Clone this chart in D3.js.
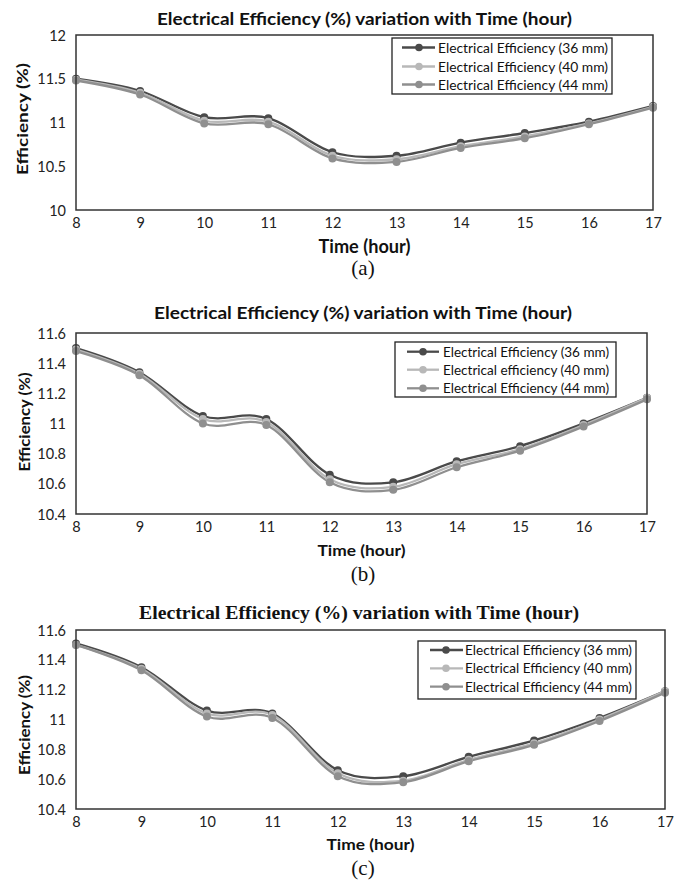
<!DOCTYPE html>
<html><head><meta charset="utf-8">
<script src="https://cdn.jsdelivr.net/npm/d3@7"></script>
<style>body{margin:0;background:#fff} svg{display:block}</style>
</head><body><svg id="c" width="683" height="884"></svg>
<script>
// ---------- data ----------
const hours = [8, 9, 10, 11, 12, 13, 14, 15, 16, 17];
const yTicksA = [10, 10.5, 11, 11.5, 12];
const yTicksBC = [10.4, 10.6, 10.8, 11, 11.2, 11.4, 11.6];
const chartTitle = "Electrical Efficiency (%) variation with Time (hour)";
const xAxisTitle = "Time (hour)";
const yAxisTitle = "Efficiency (%)";
const legendA = ["Electrical Efficiency (36 mm)", "Electrical Efficiency (40 mm)", "Electrical Efficiency (44 mm)"];
const legendB = ["Electrical Efficiency (36 mm)", "Electrical efficiency (40 mm)", "Electrical Efficiency (44 mm)"];
const legendC = ["Electrical Efficiency (36 mm)", "Electrical Efficiency (40 mm)", "Electrical Efficiency (44 mm)"];
const captions = ["(a)", "(b)", "(c)"];

const effA36 = [11.50, 11.36, 11.06, 11.05, 10.66, 10.62, 10.77, 10.88, 11.01, 11.19];
const effA40 = [11.49, 11.34, 11.02, 11.01, 10.62, 10.58, 10.73, 10.84, 10.99, 11.18];
const effA44 = [11.48, 11.32, 10.99, 10.98, 10.59, 10.55, 10.71, 10.82, 10.98, 11.17];

const effB36 = [11.50, 11.34, 11.05, 11.03, 10.66, 10.61, 10.75, 10.85, 11.00, 11.17];
const effB40 = [11.49, 11.33, 11.03, 11.01, 10.63, 10.58, 10.73, 10.83, 10.99, 11.17];
const effB44 = [11.48, 11.32, 11.00, 10.99, 10.61, 10.56, 10.71, 10.82, 10.98, 11.16];

const effC36 = [11.51, 11.35, 11.06, 11.04, 10.66, 10.62, 10.75, 10.86, 11.01, 11.19];
const effC40 = [11.50, 11.34, 11.04, 11.03, 10.64, 10.59, 10.73, 10.84, 11.00, 11.19];
const effC44 = [11.50, 11.33, 11.02, 11.01, 10.62, 10.58, 10.72, 10.83, 10.99, 11.18];

const seriesColors = ["#4a4a4a", "#b8b8b8", "#8f8f8f"];

// ---------- layout ----------
const SANS = "Lato, 'Open Sans', sans-serif";
const SERIF = "'Liberation Serif', 'DejaVu Serif', serif";
const panels = [
  { series: [effA36, effA40, effA44], legend: legendA, ticks: yTicksA, domain: [10, 12],
    l: 76, r: 653, t: 35, b: 210,
    title: { x: 364.5, y: 18, w: 415, size: 17, font: SANS },
    leg: { x: 392, y: 38, w: 220, h: 56, rows: [9.5, 28.5, 46.5], s1: 10, s2: 43, m: 27, tx: 46, tl: 170 },
    xTickY: 223, xTitle: { y: 245, size: 19, w: 92 }, yTitle: { x: 22, y: 119, w: 112 }, capY: 268 },
  { series: [effB36, effB40, effB44], legend: legendB, ticks: yTicksBC, domain: [10.4, 11.6],
    l: 76, r: 647, t: 333, b: 514,
    title: { x: 363, y: 312, w: 418, size: 17, font: SANS },
    leg: { x: 395, y: 342, w: 221, h: 55, rows: [9.7, 27.7, 46.3], s1: 12, s2: 44, m: 28, tx: 48, tl: 166 },
    xTickY: 527, xTitle: { y: 549, size: 16, w: 88 }, yTitle: { x: 24, y: 422, w: 99 }, capY: 574 },
  { series: [effC36, effC40, effC44], legend: legendC, ticks: yTicksBC, domain: [10.4, 11.6],
    l: 76, r: 665, t: 630, b: 809,
    title: { x: 359, y: 612, w: 440, size: 19, font: SERIF },
    leg: { x: 418, y: 641, w: 218, h: 58, rows: [9, 27.3, 45.7], s1: 12, s2: 45, m: 28, tx: 47, tl: 167 },
    xTickY: 822, xTitle: { y: 843, size: 16, w: 88 }, yTitle: { x: 24, y: 725, w: 100 }, capY: 868 }
];

const svg = d3.select("#c");
svg.append("rect").attr("width", 683).attr("height", 884).attr("fill", "#fff");

const fmt = v => String(+v.toFixed(1));

panels.forEach((p, pi) => {
  const g = svg.append("g");
  const x = d3.scaleLinear().domain([hours[0], hours[hours.length - 1]]).range([p.l, p.r]);
  const y = d3.scaleLinear().domain(p.domain).range([p.b, p.t]);

  // title
  g.append("text").attr("x", p.title.x).attr("y", p.title.y)
    .attr("text-anchor", "middle").attr("dominant-baseline", "central")
    .attr("font-family", p.title.font).attr("font-weight", "bold").attr("font-size", p.title.size)
    .attr("fill", "#111").attr("textLength", p.title.w).attr("lengthAdjust", "spacingAndGlyphs")
    .text(chartTitle);

  // axes (labels only, via d3 axes)
  const yAxis = d3.axisLeft(y).tickValues(p.ticks).tickFormat(fmt).tickSize(0).tickPadding(10);
  const ya = g.append("g").attr("transform", `translate(${p.l},0)`).call(yAxis);
  ya.select(".domain").remove();
  ya.selectAll("text").attr("font-family", SANS).attr("font-size", 14.5).attr("fill", "#222").attr("dy", "0.35em");

  const xAxis = d3.axisBottom(x).tickValues(hours).tickFormat(d3.format("d")).tickSize(0).tickPadding(0);
  const xa = g.append("g").attr("transform", `translate(0,${p.xTickY})`).call(xAxis);
  xa.select(".domain").remove();
  xa.selectAll("text").attr("font-family", SANS).attr("font-size", 14.5).attr("fill", "#222")
    .attr("dy", "0.35em").attr("y", 0);

  // axis titles
  g.append("text").attr("x", (p.l + p.r) / 2).attr("y", p.xTitle.y)
    .attr("text-anchor", "middle").attr("dominant-baseline", "central")
    .attr("font-family", SANS).attr("font-weight", "bold").attr("font-size", p.xTitle.size)
    .attr("fill", "#111").attr("textLength", p.xTitle.w).attr("lengthAdjust", "spacingAndGlyphs")
    .text(xAxisTitle);
  g.append("text").attr("transform", `translate(${p.yTitle.x},${p.yTitle.y}) rotate(-90)`)
    .attr("text-anchor", "middle").attr("dominant-baseline", "central")
    .attr("font-family", SANS).attr("font-weight", "bold").attr("font-size", 15)
    .attr("fill", "#111").attr("textLength", p.yTitle.w).attr("lengthAdjust", "spacingAndGlyphs")
    .text(yAxisTitle);

  // series
  const line = d3.line().x((d, i) => x(hours[i])).y(d => y(d)).curve(d3.curveCardinal.tension(0));
  p.series.forEach((s, si) => {
    g.append("path").datum(s).attr("d", line).attr("fill", "none")
      .attr("stroke", seriesColors[si]).attr("stroke-width", 2.3);
  });
  p.series.forEach((s, si) => {
    g.selectAll(null).data(s).enter().append("circle")
      .attr("cx", (d, i) => x(hours[i])).attr("cy", d => y(d)).attr("r", 4)
      .attr("fill", seriesColors[si]);
  });

  // plot border
  g.append("rect").attr("x", p.l).attr("y", p.t).attr("width", p.r - p.l).attr("height", p.b - p.t)
    .attr("fill", "none").attr("stroke", "#333").attr("stroke-width", 1.5);

  // legend
  const L = p.leg;
  const lg = g.append("g").attr("transform", `translate(${L.x},${L.y})`);
  lg.append("rect").attr("width", L.w).attr("height", L.h).attr("fill", "#fff")
    .attr("stroke", "#222").attr("stroke-width", 1.3);
  p.legend.forEach((name, i) => {
    const ry = L.rows[i];
    lg.append("line").attr("x1", L.s1).attr("x2", L.s2).attr("y1", ry).attr("y2", ry)
      .attr("stroke", seriesColors[i]).attr("stroke-width", 2.3);
    lg.append("circle").attr("cx", L.m).attr("cy", ry).attr("r", 3.8).attr("fill", seriesColors[i]);
    lg.append("text").attr("x", L.tx).attr("y", ry).attr("dominant-baseline", "central")
      .attr("font-family", SANS).attr("font-size", 13.5).attr("fill", "#111")
      .attr("textLength", L.tl).attr("lengthAdjust", "spacingAndGlyphs").text(name);
  });

  // caption
  g.append("text").attr("x", 363).attr("y", p.capY).attr("text-anchor", "middle")
    .attr("dominant-baseline", "central").attr("font-family", SERIF).attr("font-size", 21)
    .attr("fill", "#111").text(captions[pi]);
});
</script>
</body></html>
